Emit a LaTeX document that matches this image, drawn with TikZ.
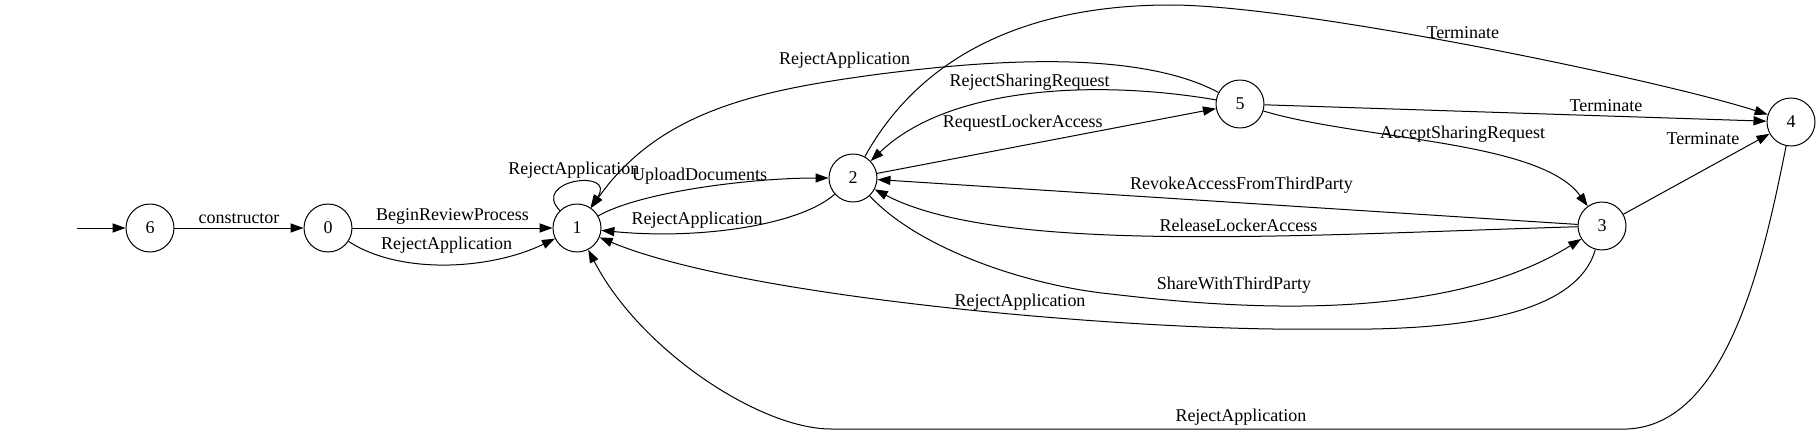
\documentclass[tikz,border=0pt]{standalone}
\usepackage{fontspec}
\setmainfont{Liberation Serif}
\usepackage{tikz}
\usetikzlibrary{arrows.meta}

\begin{document}
\begin{tikzpicture}[x=0.02cm, y=-0.02cm, line width=0.57pt, >={Triangle[length=7.4pt,width=5.2pt]},
                    font=\fontsize{10.24}{12}\selectfont,
                    state/.style={draw, circle, fill=none, minimum size=0.96cm, inner sep=0pt, text centered, text=black},
                    lbl/.style={inner sep=2pt}]
        \useasboundingbox (0,0) rectangle (1820,436);
        \node[state] (q6) at (150,228) {6};
        \node[state] (q0) at (328,228) {0};
        \node[state] (q1) at (577,228) {1};
        \node[state] (q2) at (853,178) {2};
        \node[state] (q5) at (1240,104) {5};
        \node[state] (q3) at (1602,226) {3};
        \node[state] (q4) at (1791,122) {4};
        \coordinate (init) at (77,228);
        \coordinate (m8) at (880,74);
        \coordinate (m11) at (1170,5);
        \coordinate (m17) at (1111,294);
        \coordinate (m18) at (1322,329);
        \coordinate (m19a) at (1627,429);
        \coordinate (m19b) at (831,429);
        \draw [->] (init) -- (q6);
        \draw [->] (q6) -- node[lbl, anchor=south] {constructor} (q0);
        \draw [->] (q0) -- node[lbl, anchor=south] {BeginReviewProcess} (q1);
        \draw [->] (q0) .. controls (400,275) and (490,270) .. node[lbl, above=4pt] {RejectApplication} (q1);
        \draw [->] (q1) .. controls (530,180) and (617,168) .. node[lbl, anchor=south] {RejectApplication} (q1);
        \draw [->] (q1) .. controls (640,192) and (750,178) .. node[lbl, anchor=south] {UploadDocuments} (q2);
        \draw [->] (q2) .. controls (800,225) and (700,240) .. node[lbl, pos=0.67, anchor=south] {RejectApplication} (q1);
        \draw [->] (q5) .. controls (1130,45) and (960,64) .. (m8)
                        .. controls (760,90) and (660,110) .. node[lbl, pos=0.1, above=4pt] {RejectApplication} (q1);
        \draw [->] (q5) .. controls (1100,80) and (950,85) .. node[lbl, anchor=south] {RejectSharingRequest} (q2);
        \draw [->] (q2) -- node[lbl, pos=0.43, above=6pt] {RequestLockerAccess} (q5);
        \draw [->] (q2) .. controls (935,30) and (1070,5) .. (m11)
                        .. controls (1300,5) and (1660,80) .. node[lbl, pos=0.48, above=1pt] {Terminate} (q4);
        \draw [->] (q5) -- node[lbl, pos=0.68, anchor=south] {Terminate} (q4);
        \draw [->] (q5) .. controls (1360,140) and (1540,140) .. node[lbl, pos=0.55, above=1pt] {AcceptSharingRequest} (q3);
        \draw [->] (q3) -- node[lbl, pos=0.82, above left] {Terminate} (q4);
        \draw [->] (q3) -- node[lbl, pos=0.48, above=3pt] {RevokeAccessFromThirdParty} (q2);
        \draw [->] (q3) .. controls (1300,235) and (1000,255) .. node[lbl, pos=0.41, anchor=south] {ReleaseLockerAccess} (q2);
        \draw [->] (q2) .. controls (920,250) and (1030,286) .. (m17)
                        .. controls (1220,307) and (1440,327) .. node[lbl, pos=0.3, above=4pt] {ShareWithThirdParty} (q3);
        \draw [->] (q3) .. controls (1575,321) and (1440,331) .. (m18)
                        .. controls (1150,332) and (750,300) .. node[lbl, pos=0.42, anchor=south] {RejectApplication} (q1);
        \draw [->] (q4) .. controls (1765,250) and (1730,425) .. (m19a)
                        -- node[lbl, pos=0.485, anchor=south] {RejectApplication} (m19b)
                        .. controls (760,429) and (640,350) .. (q1);
\end{tikzpicture}
\end{document}
